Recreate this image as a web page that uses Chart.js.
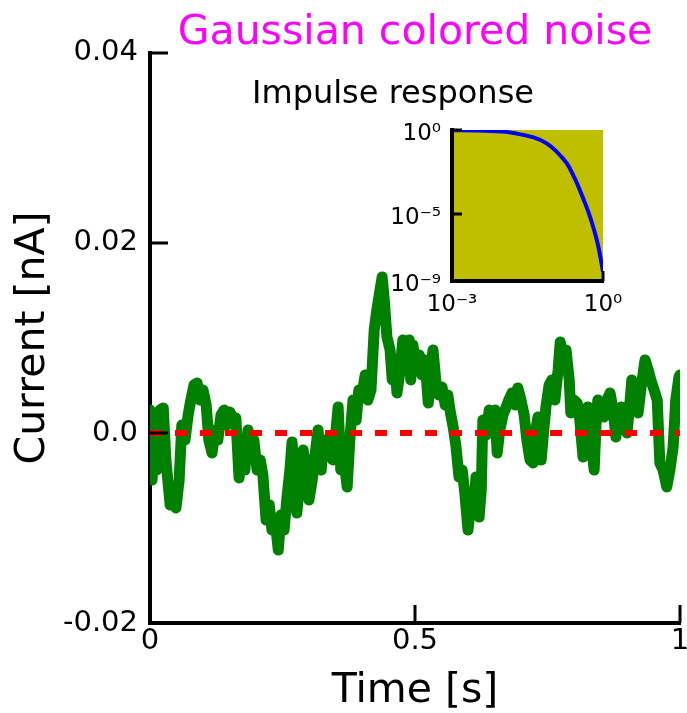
<!DOCTYPE html>
<html>
<head>
<meta charset="utf-8">
<script src="https://cdn.jsdelivr.net/npm/chart.js@4.4.0/dist/chart.umd.min.js"></script>
<style>
  body { margin: 0; background: #fff; }
  #wrap { position: relative; width: 687px; height: 713px; overflow: hidden; }
  #main { position: absolute; left: 0; top: 0; }
  #inset { position: absolute; left: 360px; top: 118px; }
  #insetTitle {
    position: absolute; left: 200px; top: 76px; width: 386px;
    text-align: center; font: 32px 'DejaVu Sans'; line-height: 32px;
    color: #000; white-space: nowrap;
  }
</style>
</head>
<body>
<div id="wrap">
  <canvas id="main" width="687" height="713"></canvas>
  <div id="insetTitle">Impulse response</div>
  <canvas id="inset" width="280" height="211"></canvas>
</div>
<script>
// noise trace, time in s and current in nA
var timeS = [
  0.000, 0.004, 0.009, 0.013, 0.019, 0.025, 0.030, 0.038, 0.043, 0.049,
  0.055, 0.060, 0.066, 0.072, 0.077, 0.083, 0.089, 0.094, 0.100, 0.106,
  0.111, 0.117, 0.123, 0.128, 0.134, 0.140, 0.145, 0.151, 0.157, 0.162,
  0.168, 0.174, 0.179, 0.185, 0.191, 0.196, 0.202, 0.208, 0.213, 0.219,
  0.225, 0.230, 0.236, 0.242, 0.247, 0.253, 0.258, 0.264, 0.268, 0.274,
  0.277, 0.283, 0.289, 0.294, 0.300, 0.306, 0.311, 0.317, 0.323, 0.328,
  0.334, 0.340, 0.345, 0.351, 0.355, 0.360, 0.366, 0.372, 0.377, 0.383,
  0.389, 0.394, 0.400, 0.406, 0.411, 0.417, 0.423, 0.428, 0.434, 0.438,
  0.442, 0.447, 0.453, 0.457, 0.462, 0.466, 0.472, 0.477, 0.483, 0.489,
  0.492, 0.496, 0.502, 0.508, 0.513, 0.519, 0.525, 0.530, 0.534, 0.540,
  0.545, 0.551, 0.557, 0.562, 0.566, 0.572, 0.577, 0.583, 0.589, 0.594,
  0.600, 0.606, 0.611, 0.615, 0.621, 0.625, 0.628, 0.634, 0.640, 0.645,
  0.651, 0.655, 0.660, 0.666, 0.672, 0.677, 0.683, 0.689, 0.694, 0.700,
  0.706, 0.711, 0.717, 0.723, 0.728, 0.732, 0.738, 0.743, 0.747, 0.753,
  0.758, 0.764, 0.770, 0.774, 0.779, 0.785, 0.791, 0.794, 0.800, 0.806,
  0.811, 0.817, 0.823, 0.826, 0.832, 0.838, 0.842, 0.845, 0.851, 0.857,
  0.862, 0.868, 0.874, 0.879, 0.885, 0.889, 0.894, 0.900, 0.906, 0.909,
  0.915, 0.921, 0.926, 0.934, 0.940, 0.945, 0.951, 0.957, 0.962, 0.968,
  0.975, 0.981, 0.987, 0.992, 0.998, 1.000
];
var currentNA = [
  0.00242, -0.00495, 0.00137, -0.00389, 0.00242, 0.00263, -0.00284, -0.00758, -0.00653, -0.00789,
  -0.00495, 0.00084, -0.00074, 0.00189, 0.00347, 0.00505, 0.00526, 0.00347, 0.00453, 0.00295,
  -0.00074, -0.00211, 0.00032, -0.00074, 0.00189, 0.00242, 0.00084, 0.00221, 0.00137, 0.00158,
  -0.00474, -0.00232, -0.00389, 0.00032, -0.00179, -0.00074, -0.00389, -0.00284, -0.00442, -0.00916,
  -0.00758, -0.01021, -0.00916, -0.01232, -0.00863, -0.01021, -0.00705, -0.00389, -0.00095, -0.00600,
  -0.00842, -0.00495, -0.00179, -0.00389, -0.00705, -0.00495, -0.00253, 0.00032, -0.00389, -0.00074,
  -0.00232, -0.00074, -0.00284, 0.00032, 0.00274, -0.00389, -0.00284, -0.00568, -0.00074, 0.00347,
  0.00137, 0.00453, 0.00400, 0.00611, 0.00347, 0.00453, 0.01084, 0.01295, 0.01505, 0.01642,
  0.01400, 0.01011, 0.00874, 0.00558, 0.00768, 0.00421, 0.00663, 0.00979, 0.00768, 0.00979,
  0.00558, 0.00926, 0.00716, 0.00821, 0.00611, 0.00768, 0.00316, 0.00663, 0.00874, 0.00505,
  0.00400, 0.00484, 0.00295, 0.00400, 0.00242, 0.00063, -0.00126, -0.00463, -0.00389, -0.00632,
  -0.01021, -0.00705, -0.00811, -0.00463, -0.00884, -0.00600, 0.00137, -0.00021, 0.00242, 0.00189,
  0.00242, -0.00211, 0.00032, 0.00189, 0.00274, 0.00347, 0.00421, 0.00295, 0.00474, 0.00347,
  0.00189, -0.00074, -0.00284, -0.00316, 0.00032, 0.00168, -0.00284, 0.00032, 0.00274, 0.00505,
  0.00558, 0.00347, 0.00663, 0.00958, 0.00821, 0.00874, 0.00558, 0.00211, 0.00347, 0.00316,
  0.00137, -0.00253, 0.00137, 0.00274, -0.00074, -0.00389, 0.00137, 0.00347, 0.00242, 0.00168,
  0.00347, 0.00421, 0.00242, -0.00042, 0.00189, 0.00274, 0.00137, 0.00000, 0.00347, 0.00558,
  0.00400, 0.00211, 0.00453, 0.00768, 0.00663, 0.00558, 0.00453, 0.00347, -0.00316, -0.00389,
  -0.00568, -0.00389, -0.00147, 0.00347, 0.00589, 0.00611
];
// zero reference line
var zeroT = [0, 1];
var zeroV = [0, 0];

var xTickValues = [0, 0.5, 1];
var xTickLabels = ["0", "0.5", "1"];
var yTickValues = [-0.02, 0, 0.02, 0.04];
var yTickLabels = ["-0.02", "0.0", "0.02", "0.04"];

// inset: impulse response (log-log)
var impulseT = [0.001, 0.00316, 0.01, 0.0166, 0.0417, 0.076, 0.12, 0.19, 0.275, 0.38, 0.51, 0.65, 0.81, 1.0];
var impulseY = [0.98, 0.94, 0.8, 0.66, 0.36, 0.16, 0.051, 0.0105, 1.3e-3, 1.35e-4, 1.35e-5, 1.4e-6, 1.1e-7, 3.6e-9];
var insetXTicks = [1e-3, 1];
var insetXLabels = ["10\u207B\u00B3", "10\u2070"];
var insetYTicks = [1e-9, 1e-5, 1];
var insetYLabels = ["10\u207B\u2079", "10\u207B\u2075", "10\u2070"];

Chart.defaults.font.family = "'DejaVu Sans', sans-serif";
Chart.defaults.color = "#000";

// tick marks pointing into the plot, like matplotlib
var inwardTicks = {
  id: "inwardTicks",
  afterDatasetsDraw: function (chart, args, opts) {
    var ctx = chart.ctx, a = chart.chartArea;
    var xs = chart.scales.x, ys = chart.scales.y;
    ctx.save();
    ctx.strokeStyle = "#000";
    ctx.lineWidth = opts.width;
    ctx.beginPath();
    xs.ticks.forEach(function (t) {
      var p = xs.getPixelForValue(t.value);
      ctx.moveTo(p, a.bottom);
      ctx.lineTo(p, a.bottom - opts.length);
    });
    ys.ticks.forEach(function (t) {
      var p = ys.getPixelForValue(t.value);
      ctx.moveTo(a.left, p);
      ctx.lineTo(a.left + opts.length, p);
    });
    ctx.stroke();
    ctx.restore();
  }
};

var insetBg = {
  id: "insetBg",
  beforeDraw: function (chart, args, opts) {
    var ctx = chart.ctx, a = chart.chartArea;
    ctx.save();
    ctx.fillStyle = opts.color;
    ctx.fillRect(a.left, a.top, a.right - a.left, a.bottom - a.top);
    ctx.restore();
  }
};

new Chart(document.getElementById("main"), {
  type: "line",
  data: {
    datasets: [
      {
        data: zeroT.map(function (t, i) { return { x: t, y: zeroV[i] }; }),
        borderColor: "#ff0000",
        borderWidth: 6,
        borderDash: [12, 13],
        pointRadius: 0,
        fill: false
      },
      {
        data: timeS.map(function (t, i) { return { x: t, y: currentNA[i] }; }),
        borderColor: "#008000",
        borderWidth: 11,
        borderJoinStyle: "round",
        borderCapStyle: "round",
        pointRadius: 0,
        tension: 0,
        clip: 0,
        fill: false
      }
    ]
  },
  options: {
    responsive: false,
    animation: false,
    events: [],
    layout: { padding: { left: 0, right: 7, top: 0, bottom: 0 } },
    plugins: {
      legend: { display: false },
      tooltip: { enabled: false },
      title: {
        display: true,
        text: "Gaussian colored noise",
        color: "#ff00ff",
        fullSize: false,
        font: { size: 41, weight: "normal", lineHeight: 0.95 },
        padding: { top: 14, bottom: 0 }
      },
      inwardTicks: { length: 18, width: 3 }
    },
    scales: {
      x: {
        type: "linear",
        min: 0,
        max: 1,
        grid: { display: false, drawTicks: false },
        border: { display: true, color: "#000", width: 4 },
        afterBuildTicks: function (s) { s.ticks = xTickValues.map(function (v) { return { value: v }; }); },
        afterFit: function (s) { s.height = 90; s.paddingLeft = 0; s.paddingRight = 0; },
        ticks: {
          font: { size: 29 }, padding: 1, maxRotation: 0, autoSkip: false,
          callback: function (v, i) { return xTickLabels[i]; }
        },
        title: { display: true, text: "Time [s]", font: { size: 41, lineHeight: 1 }, padding: { top: 0, bottom: 1 } }
      },
      y: {
        type: "linear",
        min: -0.02,
        max: 0.04,
        grid: { display: false, drawTicks: false },
        border: { display: true, color: "#000", width: 4 },
        afterBuildTicks: function (s) { s.ticks = yTickValues.map(function (v) { return { value: v }; }); },
        afterFit: function (s) { s.width = 150; s.paddingTop = 0; s.paddingBottom = 0; },
        ticks: {
          font: { size: 29 }, padding: 12, autoSkip: false,
          callback: function (v, i) { return yTickLabels[i]; }
        },
        title: { display: true, text: "Current [nA]", font: { size: 41, lineHeight: 1 }, padding: { top: 13, bottom: 0 } }
      }
    }
  },
  plugins: [inwardTicks]
});

new Chart(document.getElementById("inset"), {
  type: "line",
  data: {
    datasets: [{
      data: impulseT.map(function (t, i) { return { x: t, y: impulseY[i] }; }),
      borderColor: "#0000ff",
      borderWidth: 4,
      pointRadius: 0,
      tension: 0.4,
      fill: false
    }]
  },
  options: {
    responsive: false,
    animation: false,
    events: [],
    layout: { padding: { left: 0, right: 37, top: 12, bottom: 0 } },
    plugins: {
      legend: { display: false },
      tooltip: { enabled: false },
      insetBg: { color: "#bfbf00" },
      inwardTicks: { length: 10, width: 3 }
    },
    scales: {
      x: {
        type: "logarithmic",
        min: 1e-3,
        max: 1,
        grid: { display: false, drawTicks: false },
        border: { display: true, color: "#000", width: 4 },
        afterBuildTicks: function (s) { s.ticks = insetXTicks.map(function (v) { return { value: v }; }); },
        afterFit: function (s) { s.height = 48; s.paddingLeft = 0; s.paddingRight = 0; },
        ticks: {
          font: { size: 23 }, padding: 10, maxRotation: 0, autoSkip: false,
          callback: function (v, i) { return insetXLabels[i]; }
        }
      },
      y: {
        type: "logarithmic",
        min: 1e-9,
        max: 1,
        grid: { display: false, drawTicks: false },
        border: { display: true, color: "#000", width: 4 },
        afterBuildTicks: function (s) { s.ticks = insetYTicks.map(function (v) { return { value: v }; }); },
        afterFit: function (s) { s.width = 92; s.paddingTop = 0; s.paddingBottom = 0; },
        ticks: {
          font: { size: 23 }, padding: 11, labelOffset: 4, autoSkip: false,
          callback: function (v, i) { return insetYLabels[i]; }
        }
      }
    }
  },
  plugins: [insetBg, inwardTicks]
});
</script>
</body>
</html>
